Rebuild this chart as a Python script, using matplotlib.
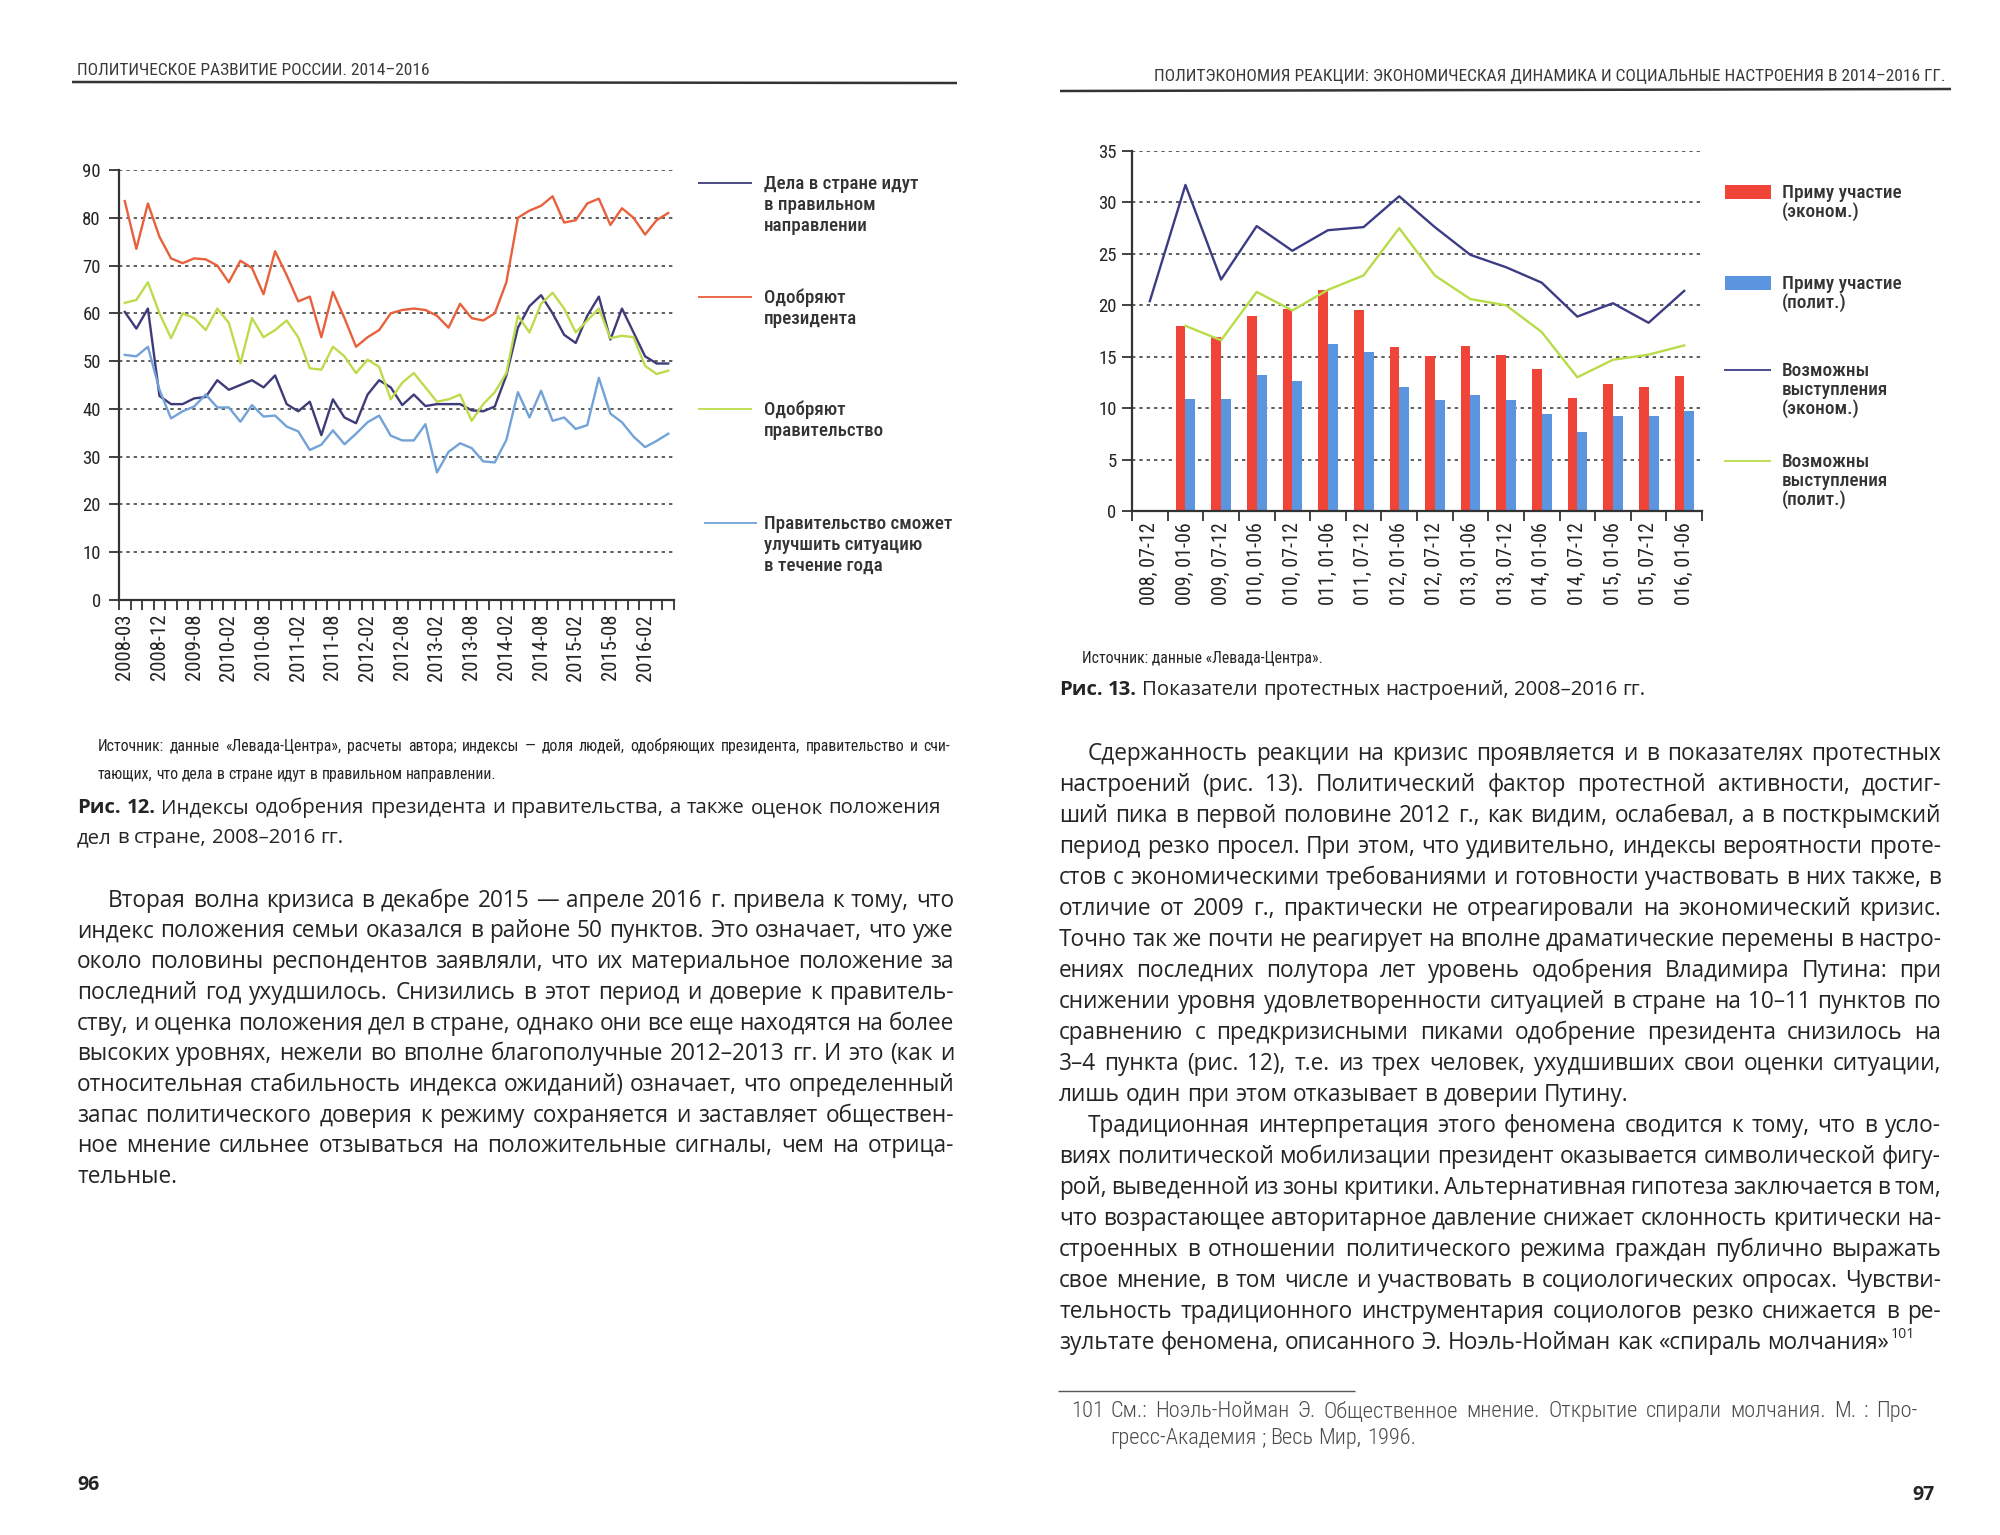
import numpy as np
import matplotlib
matplotlib.use("Agg")
import matplotlib.pyplot as plt
from matplotlib.font_manager import FontProperties
from matplotlib.lines import Line2D
from matplotlib.patches import Rectangle

# ---------------- Fig. 12 data ----------------
months = ["2008-03", "2008-06", "2008-09", "2008-12", "2009-03", "2009-05",
          "2009-08", "2009-10", "2009-12", "2010-02", "2010-04", "2010-06",
          "2010-08", "2010-10", "2010-12", "2011-02", "2011-04", "2011-06",
          "2011-08", "2011-10", "2011-12", "2012-02", "2012-04", "2012-06",
          "2012-08", "2012-10", "2012-12", "2013-02", "2013-04", "2013-06",
          "2013-08", "2013-10", "2013-12", "2014-02", "2014-04", "2014-06",
          "2014-08", "2014-10", "2014-12", "2015-02", "2015-04", "2015-06",
          "2015-08", "2015-10", "2015-12", "2016-02", "2016-04", "2016-06"]
direction = [60.3, 56.8, 61, 42.7, 41, 41, 42.2, 42.5, 46, 44,
             45, 46, 44.5, 47, 41, 39.5, 41.5, 34.5, 42, 38.2,
             37, 43, 46, 44.5, 40.8, 43, 40.6, 41, 41, 41,
             39.7, 39.5, 40.5, 47, 57, 61.5, 63.8, 60, 55.5, 53.8,
             59.5, 63.5, 54.5, 61, 56, 51, 49.5, 49.5]
president = [83.5, 73.5, 83, 76, 71.5, 70.5, 71.5, 71.3, 70, 66.5,
             71, 69.5, 64, 73, 68, 62.5, 63.5, 55, 64.5, 59,
             53, 55, 56.5, 60, 60.7, 61, 60.7, 59.5, 57, 62,
             59, 58.5, 60, 66.5, 80, 81.5, 82.5, 84.5, 79, 79.5,
             83, 84, 78.5, 82, 80, 76.5, 79.5, 81]
government = [62.2, 62.8, 66.5, 60, 54.8, 60, 59, 56.5, 61, 58,
              49.5, 59, 55, 56.5, 58.5, 55, 48.5, 48.2, 53, 51,
              47.5, 50.3, 48.8, 42, 45.5, 47.5, 44.5, 41.5, 42, 43,
              37.5, 41, 43.5, 47.5, 59.5, 56, 62, 64.3, 61, 56,
              58.5, 61, 54.8, 55.3, 55, 49, 47.3, 48]
improve = [51.3, 51, 53, 44, 38, 39.5, 40.5, 43, 40.3, 40.3,
           37.3, 40.8, 38.4, 38.6, 36.3, 35.3, 31.4, 32.5, 35.5, 32.6,
           34.8, 37.2, 38.6, 34.4, 33.4, 33.4, 36.8, 26.7, 31, 32.8,
           31.8, 29, 28.8, 33.5, 43.5, 38.2, 43.8, 37.5, 38.2, 35.8,
           36.6, 46.5, 39, 37.2, 34.2, 32, 33.3, 34.8]
left_legend = [["Дела в стране идут", "в правильном", "направлении"],
               ["Одобряют", "президента"],
               ["Одобряют", "правительство"],
               ["Правительство сможет", "улучшить ситуацию", "в течение года"]]

# ---------------- Fig. 13 data ----------------
periods = ["008, 07-12", "009, 01-06", "009, 07-12", "010, 01-06", "010, 07-12",
           "011, 01-06", "011, 07-12", "012, 01-06", "012, 07-12", "013, 01-06",
           "013, 07-12", "014, 01-06", "014, 07-12", "015, 01-06", "015, 07-12",
           "016, 01-06"]
part_econ = [np.nan, 18, 16.9, 19, 19.6, 21.5, 19.5, 15.9, 15.1, 16, 15.2, 13.8, 11, 12.3, 12.1, 13.1]
part_polit = [np.nan, 10.9, 10.9, 13.2, 12.6, 16.2, 15.5, 12.1, 10.8, 11.3, 10.8, 9.4, 7.7, 9.2, 9.2, 9.7]
possible_econ = [20.4, 31.7, 22.5, 27.7, 25.3, 27.3, 27.6, 30.6, 27.6, 24.9, 23.7, 22.2, 18.9, 20.2, 18.3, 21.4]
possible_polit = [np.nan, 18, 16.6, 21.3, 19.5, 21.5, 22.9, 27.5, 22.9, 20.6, 20, 17.4, 13, 14.7, 15.2, 16.1]
right_legend = [["Приму участие", "(эконом.)"],
                ["Приму участие", "(полит.)"],
                ["Возможны", "выступления", "(эконом.)"],
                ["Возможны", "выступления", "(полит.)"]]

# ---------------- page text ----------------
header_left = "ПОЛИТИЧЕСКОЕ РАЗВИТИЕ РОССИИ. 2014–2016"
header_right = "ПОЛИТЭКОНОМИЯ РЕАКЦИИ: ЭКОНОМИЧЕСКАЯ ДИНАМИКА И СОЦИАЛЬНЫЕ НАСТРОЕНИЯ В 2014–2016 ГГ."
source_left = ["Источник: данные «Левада-Центра», расчеты автора; индексы — доля людей, одобряющих президента, правительство и счи-",
               "тающих, что дела в стране идут в правильном направлении."]
caption_left = ["Индексы одобрения президента и правительства, а также оценок положения",
                "дел в стране, 2008–2016 гг."]
source_right = "Источник: данные «Левада-Центра»."
caption_right = "Показатели протестных настроений, 2008–2016 гг."
body_left = ["Вторая волна кризиса в декабре 2015 — апреле 2016 г. привела к тому, что",
             "индекс положения семьи оказался в районе 50 пунктов. Это означает, что уже",
             "около половины респондентов заявляли, что их материальное положение за",
             "последний год ухудшилось. Снизились в этот период и доверие к правитель-",
             "ству, и оценка положения дел в стране, однако они все еще находятся на более",
             "высоких уровнях, нежели во вполне благополучные 2012–2013 гг. И это (как и",
             "относительная стабильность индекса ожиданий) означает, что определенный",
             "запас политического доверия к режиму сохраняется и заставляет обществен-",
             "ное мнение сильнее отзываться на положительные сигналы, чем на отрица-",
             "тельные."]
body_right1 = ["Сдержанность реакции на кризис проявляется и в показателях протестных",
               "настроений (рис. 13). Политический фактор протестной активности, достиг-",
               "ший пика в первой половине 2012 г., как видим, ослабевал, а в посткрымский",
               "период резко просел. При этом, что удивительно, индексы вероятности проте-",
               "стов с экономическими требованиями и готовности участвовать в них также, в",
               "отличие от 2009 г., практически не отреагировали на экономический кризис.",
               "Точно так же почти не реагирует на вполне драматические перемены в настро-",
               "ениях последних полутора лет уровень одобрения Владимира Путина: при",
               "снижении уровня удовлетворенности ситуацией в стране на 10–11 пунктов по",
               "сравнению с предкризисными пиками одобрение президента снизилось на",
               "3–4 пункта (рис. 12), т.е. из трех человек, ухудшивших свои оценки ситуации,",
               "лишь один при этом отказывает в доверии Путину."]
body_right2 = ["Традиционная интерпретация этого феномена сводится к тому, что в усло-",
               "виях политической мобилизации президент оказывается символической фигу-",
               "рой, выведенной из зоны критики. Альтернативная гипотеза заключается в том,",
               "что возрастающее авторитарное давление снижает склонность критически на-",
               "строенных в отношении политического режима граждан публично выражать",
               "свое мнение, в том числе и участвовать в социологических опросах. Чувстви-",
               "тельность традиционного инструментария социологов резко снижается в ре-",
               "зультате феномена, описанного Э. Ноэль-Нойман как «спираль молчания»"]
footnote = ["См.: Ноэль-Нойман Э. Общественное мнение. Открытие спирали молчания. М. : Про-",
            "гресс-Академия ; Весь Мир, 1996."]

# ---------------- colours ----------------
C_DIR, C_PRES, C_GOV, C_IMP = "#3d3b78", "#e8603c", "#bcdc4c", "#72a2d8"
C_RBAR, C_BBAR, C_LDARK, C_LGREEN = "#f04438", "#5b95df", "#3c3c85", "#b8dc48"
TXT = "#262324"
AXC = "#333333"

W, H = 2000, 1535
fig = plt.figure(figsize=(W / 100, H / 100), dpi=100)
fig.patch.set_facecolor("white")
R = fig.canvas.get_renderer()

CH = ["Roboto Condensed", "Liberation Sans Narrow", "Roboto", "DejaVu Sans"]
BD = ["Open Sans", "Noto Sans", "DejaVu Sans"]


def FP(fam, size, weight="normal"):
    return FontProperties(family=fam, size=size, weight=weight)


def tw(s, fp):
    return R.get_text_width_height_descent(s, fp, ismath=False)[0]


def fit(s, fam, target, weight="normal"):
    return 10.0 * target / tw(s, FP(fam, 10, weight))


def put(x, yc, s, fp, color=TXT, ha="left"):
    base = yc + 0.3 * fp.get_size_in_points() * 100 / 72
    fig.text(x / W, 1 - base / H, s, fontproperties=fp, color=color, ha=ha, va="baseline")


def words_line(tokens, x0, x1, yc, color=TXT, justify=True):
    ws = [tw(t, f) for t, f in tokens]
    if justify and len(tokens) > 1:
        gap = (x1 - x0 - sum(ws)) / (len(tokens) - 1)
    else:
        f = tokens[-1][1]
        gap = tw("n n", f) - tw("nn", f)
    x = x0
    for (t, f), w in zip(tokens, ws):
        put(x, yc, t, f, color)
        x += w + gap
    return x - gap


def text_line(s, fp, x0, x1, yc, color=TXT, justify=True):
    return words_line([(w, fp) for w in s.split(" ")], x0, x1, yc, color, justify)


def hline(x0, x1, y0, y1, color=AXC, lw=1.5):
    fig.add_artist(Line2D([x0 / W, x1 / W], [1 - y0 / H, 1 - y1 / H],
                          transform=fig.transFigure, color=color, lw=lw, solid_capstyle="butt"))


# ---------------- sizes ----------------
bs = 1.055 * fit("лишь один при этом отказывает в доверии Путину.", BD, 537)
cs = fit("дел в стране, 2008–2016 гг.", BD, 267)
ss = fit("тающих, что дела в стране идут в правильном направлении.", CH, 399)
ls = fit("Правительство сможет", CH, 188, 500)
rls = fit("Приму участие", CH, 120, 500)
hs = fit(header_left, CH, 353)
fs = min(fit("гресс-Академия ; Весь Мир, 1996.", CH, 325, "light"),
         fit(footnote[0], CH, 775, "light"))
xs1 = fit("2008-03", CH, 66)
xs2 = fit("008, 07-12", CH, 82)

# ---------------- headers ----------------
put(77, 70, header_left, FP(CH, hs), "#3a3a3a")
hline(72, 957, 82, 83, lw=1.8)
put(1945, 76, header_right, FP(CH, hs), "#3a3a3a", ha="right")
hline(1060, 1951, 91, 89, lw=1.8)

# ---------------- Fig. 12 chart ----------------
ax1 = fig.add_axes([119 / W, 1 - 600 / H, (674 - 119) / W, (600 - 170) / H])
x1 = np.arange(len(months))
ax1.plot(x1, direction, color=C_DIR, lw=1.7, zorder=3)
ax1.plot(x1, president, color=C_PRES, lw=1.7, zorder=3)
ax1.plot(x1, government, color=C_GOV, lw=1.7, zorder=3)
ax1.plot(x1, improve, color=C_IMP, lw=1.7, zorder=3)
ax1.set_xlim(-0.5, len(months) - 0.5)
ax1.set_ylim(0, 90)
ax1.set_yticks(np.arange(0, 91, 10))
ax1.yaxis.grid(True, linestyle=(0, (2.2, 2.6)), color=AXC, lw=1.1)
ax1.set_axisbelow(True)
ax1.set_xticks(x1[::3])
ax1.set_xticklabels(months[::3], rotation=90, fontproperties=FP(CH, xs1), color=TXT)
ax1.set_xticks(np.arange(-0.5, len(months), 1), minor=True)
ax1.tick_params(axis="x", which="major", length=0, pad=10)
ax1.tick_params(axis="x", which="minor", length=7, width=1.3, color=AXC, direction="out")
ax1.tick_params(axis="y", length=7, width=1.3, color=AXC, pad=6)
for lab in ax1.get_yticklabels():
    lab.set_fontproperties(FP(CH, 13.5))
    lab.set_color(TXT)

# ---------------- Fig. 13 chart ----------------
ax2 = fig.add_axes([1132 / W, 1 - 511 / H, (1702 - 1132) / W, (511 - 151) / H])
x2 = np.arange(len(periods))
ax2.bar(x2 - 0.135, part_econ, 0.27, color=C_RBAR, zorder=2)
ax2.bar(x2 + 0.14, part_polit, 0.28, color=C_BBAR, zorder=2)
ax2.plot(x2, possible_econ, color=C_LDARK, lw=1.7, zorder=3)
ax2.plot(x2, possible_polit, color=C_LGREEN, lw=1.7, zorder=3)
ax2.set_xlim(-0.5, len(periods) - 0.5)
ax2.set_ylim(0, 35)
ax2.set_yticks(np.arange(0, 36, 5))
ax2.yaxis.grid(True, linestyle=(0, (2.2, 2.6)), color=AXC, lw=1.1)
ax2.set_axisbelow(True)
ax2.set_xticks(x2)
ax2.set_xticklabels(periods, rotation=90, fontproperties=FP(CH, xs2), color=TXT)
ax2.set_xticks(np.arange(-0.5, len(periods), 1), minor=True)
ax2.tick_params(axis="x", which="major", length=0, pad=8)
ax2.tick_params(axis="x", which="minor", length=7, width=1.3, color=AXC, direction="out")
ax2.tick_params(axis="y", length=7, width=1.3, color=AXC, pad=4)
for lab in ax2.get_yticklabels():
    lab.set_fontproperties(FP(CH, 13.5))
    lab.set_color(TXT)

for ax in (ax1, ax2):
    ax.set_facecolor("none")
    for s in ("top", "right"):
        ax.spines[s].set_visible(False)
    for s in ("left", "bottom"):
        ax.spines[s].set_color(AXC)
        ax.spines[s].set_linewidth(1.6)

# ---------------- legends ----------------
lfp = FP(CH, ls, 500)
l_cols = [C_DIR, C_PRES, C_GOV, C_IMP]
l_y = [183, 297, 409, 523]
l_x = [(698, 752), (698, 752), (698, 752), (704, 757)]
for lines, col, y0, (a, b) in zip(left_legend, l_cols, l_y, l_x):
    hline(a, b, y0, y0, color=col, lw=1.3)
    for k, t in enumerate(lines):
        put(764, y0 + k * 21.2, t, lfp, "#333333")

rfp = FP(CH, rls, 500)
r_y = [192, 283, 370, 461]
for k, (lines, y0) in enumerate(zip(right_legend, r_y)):
    if k < 2:
        col = [C_RBAR, C_BBAR][k]
        fig.add_artist(Rectangle((1725 / W, 1 - (y0 + 6.5) / H), 46 / W, 13 / H,
                                 transform=fig.transFigure, color=col, lw=0))
    else:
        col = [C_LDARK, C_LGREEN][k - 2]
        hline(1724, 1771, y0, y0, color=col, lw=1.3)
    for j, t in enumerate(lines):
        put(1782, y0 + j * 19.2, t, rfp, "#333333")

# ---------------- sources / captions ----------------
sfp = FP(CH, ss)
text_line(source_left[0], sfp, 98, 950, 746)
text_line(source_left[1], sfp, 98, 950, 774, justify=False)
put(1082, 658, source_right, sfp)

cfp = FP(BD, cs)
cbf = FP(BD, cs, "bold")
tok = [("Рис.", cbf), ("12.", cbf)] + [(w, cfp) for w in caption_left[0].split(" ")]
words_line(tok, 77, 941, 807)
text_line(caption_left[1], cfp, 77, 941, 837, justify=False)
tok = [("Рис.", cbf), ("13.", cbf)] + [(w, cfp) for w in caption_right.split(" ")]
words_line(tok, 1059, 1941, 689, justify=False)

# ---------------- body text ----------------
bfp = FP(BD, bs)
for i, s in enumerate(body_left):
    x0 = 108 if i == 0 else 77
    text_line(s, bfp, x0, 954, 900 + 30.7 * i, justify=(i < len(body_left) - 1))

for i, s in enumerate(body_right1):
    x0 = 1088 if i == 0 else 1059
    text_line(s, bfp, x0, 1941, 753 + 31 * i, justify=(i < len(body_right1) - 1))
off = len(body_right1)
for i, s in enumerate(body_right2):
    x0 = 1088 if i == 0 else 1059
    last = i == len(body_right2) - 1
    xe = text_line(s, bfp, x0, 1941, 753 + 31 * (i + off), justify=not last)
    if last:
        put(xe + 2, 753 + 31 * (i + off) - 8, "101", FP(BD, bs * 0.62))

# ---------------- footnote ----------------
hline(1058, 1355, 1391, 1391, color="#555555", lw=1.0)
ffp = FP(CH, fs, "light")
put(1071, 1410, "101", ffp, "#4a4a4a")
text_line(footnote[0], ffp, 1110, 1918, 1410, color="#4a4a4a")
text_line(footnote[1], ffp, 1110, 1918, 1437, color="#4a4a4a", justify=False)

# ---------------- page numbers ----------------
pfp = FP(BD, 14, "bold")
put(77, 1484, "96", pfp)
put(1935, 1494, "97", pfp, ha="right")

fig.savefig("out.png", dpi=100, facecolor="white")
